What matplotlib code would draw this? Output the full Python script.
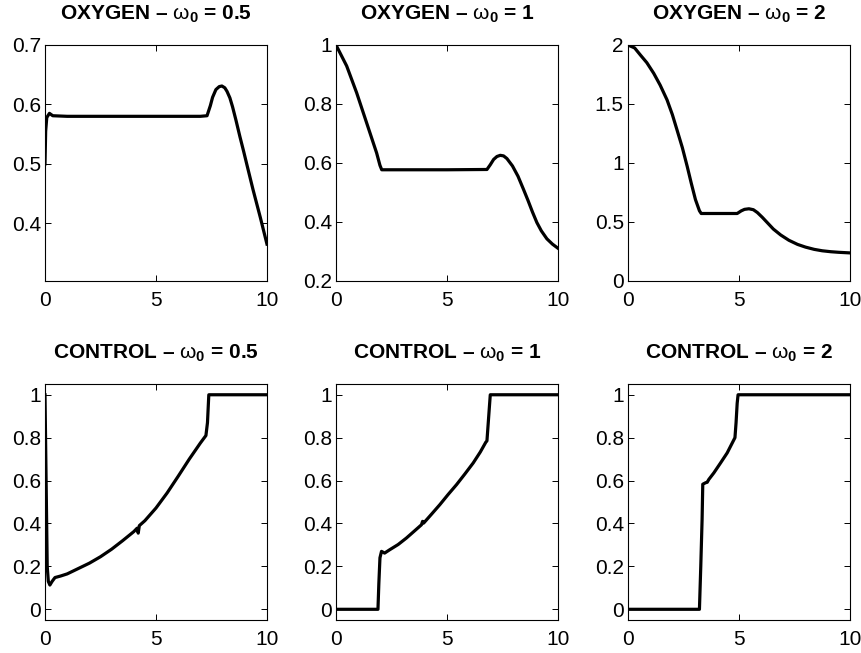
import numpy as np
import matplotlib.pyplot as plt

plt.rcParams['font.family'] = ['Liberation Sans', 'DejaVu Sans']
plt.rcParams['mathtext.fontset'] = 'custom'
plt.rcParams['mathtext.rm'] = 'Liberation Sans'
plt.rcParams['mathtext.bf'] = 'Liberation Sans:bold'

# oxygen, w0 = 0.5
ox1_t = [0, 0.03, 0.08, 0.2, 0.35, 1.0, 3.0, 5.0, 7.0, 7.3, 7.45, 7.55, 7.7, 7.85, 7.97, 8.1,
         8.2, 8.33, 8.45, 8.6, 8.78, 8.95, 9.1, 9.37, 9.7, 10]
ox1_y = [0.5, 0.555, 0.578, 0.585, 0.581, 0.58, 0.58, 0.58, 0.58, 0.581, 0.598, 0.612, 0.625,
         0.63, 0.631, 0.628, 0.622, 0.611, 0.596, 0.574, 0.546, 0.521, 0.498, 0.457, 0.41, 0.365]

# oxygen, w0 = 1
ox2_t = [0, 0.48, 0.93, 1.38, 1.83, 1.98, 2.06, 3.0, 5.0, 6.8, 6.95, 7.1, 7.25, 7.4, 7.55, 7.7,
         7.95, 8.2, 8.45, 8.65, 8.85, 9.05, 9.25, 9.5, 9.75, 10]
ox2_y = [1.0, 0.929, 0.838, 0.736, 0.634, 0.592, 0.577, 0.577, 0.577, 0.578, 0.594, 0.612,
         0.622, 0.626, 0.624, 0.615, 0.59, 0.555, 0.51, 0.473, 0.434, 0.398, 0.37, 0.343,
         0.325, 0.311]

# oxygen, w0 = 2
ox3_t = [0, 0.3, 0.56, 0.85, 1.16, 1.45, 1.76, 2.0, 2.21, 2.45, 2.67, 2.85, 3.04, 3.22, 3.3, 4.0,
         4.92, 5.1, 5.25, 5.45, 5.65, 5.83, 6.05, 6.28, 6.55, 6.88, 7.25, 7.64, 8.0, 8.39, 8.75,
         9.14, 9.5, 10]
ox3_y = [2.0, 1.975, 1.915, 1.85, 1.76, 1.66, 1.535, 1.41, 1.28, 1.13, 0.97, 0.83, 0.69, 0.595,
         0.572, 0.572, 0.572, 0.594, 0.607, 0.612, 0.604, 0.58, 0.54, 0.494, 0.44, 0.39, 0.345,
         0.31, 0.287, 0.268, 0.256, 0.248, 0.243, 0.238]

# control, w0 = 0.5
ct1_t = [0, 0.05, 0.1, 0.15, 0.22, 0.32, 0.45, 0.7, 1.0, 1.5, 2.0, 2.5, 3.0, 3.5, 4.0, 4.15,
         4.2, 4.25, 4.5, 5.0, 5.5, 6.0, 6.5, 7.0, 7.25, 7.32, 7.38, 10]
ct1_y = [1.0, 0.6, 0.2, 0.13, 0.113, 0.13, 0.148, 0.155, 0.165, 0.19, 0.215, 0.245, 0.28,
         0.32, 0.362, 0.378, 0.355, 0.39, 0.413, 0.472, 0.542, 0.62, 0.7, 0.775, 0.81, 0.87,
         1.0, 1.0]

# control, w0 = 1
ct2_t = [0, 1.89, 1.93, 1.98, 2.05, 2.19, 2.41, 2.8, 3.17, 3.5, 3.85, 3.9, 3.95, 4.3, 4.68,
         5.05, 5.43, 5.8, 6.18, 6.5, 6.75, 6.8, 6.95, 10]
ct2_y = [0, 0, 0.12, 0.24, 0.27, 0.262, 0.277, 0.302, 0.332, 0.362, 0.394, 0.41, 0.402, 0.443,
         0.488, 0.535, 0.581, 0.63, 0.682, 0.733, 0.779, 0.785, 1.0, 1.0]

# control, w0 = 2
ct3_t = [0, 3.22, 3.28, 3.34, 3.37, 3.5, 3.57, 3.64, 3.87, 4.17, 4.47, 4.82, 4.87, 4.92, 4.96, 10]
ct3_y = [0, 0, 0.2, 0.42, 0.583, 0.59, 0.592, 0.605, 0.636, 0.682, 0.729, 0.8, 0.87, 0.96, 1.0, 1.0]

series = [(ox1_t, ox1_y), (ox2_t, ox2_y), (ox3_t, ox3_y),
          (ct1_t, ct1_y), (ct2_t, ct2_y), (ct3_t, ct3_y)]
names = ['OXYGEN', 'OXYGEN', 'OXYGEN', 'CONTROL', 'CONTROL', 'CONTROL']
w0 = ['0.5', '1', '2', '0.5', '1', '2']
ylims = [(0.303, 0.7), (0.2, 1.0), (0, 2), (-0.05, 1.05), (-0.05, 1.05), (-0.05, 1.05)]
yticks = [[0.4, 0.5, 0.6, 0.7], [0.2, 0.4, 0.6, 0.8, 1], [0, 0.5, 1, 1.5, 2],
          [0, 0.2, 0.4, 0.6, 0.8, 1], [0, 0.2, 0.4, 0.6, 0.8, 1], [0, 0.2, 0.4, 0.6, 0.8, 1]]
yticklabels = [['0.4', '0.5', '0.6', '0.7'], ['0.2', '0.4', '0.6', '0.8', '1'],
               ['0', '0.5', '1', '1.5', '2'], ['0', '0.2', '0.4', '0.6', '0.8', '1'],
               ['0', '0.2', '0.4', '0.6', '0.8', '1'], ['0', '0.2', '0.4', '0.6', '0.8', '1']]

fig = plt.figure(figsize=(8.62, 6.53), dpi=100)
lefts = [0.0522, 0.3898, 0.7285]
bottoms = [0.5697, 0.0505]

for k in range(6):
    ax = fig.add_axes([lefts[k % 3], bottoms[k // 3], 0.2575, 0.3614])
    t, y = series[k]
    ax.plot(t, y, color='black', lw=2.3, solid_joinstyle='round')
    ax.set_xlim(0, 10)
    ax.set_ylim(*ylims[k])
    ax.set_xticks([0, 5, 10])
    ax.set_xticklabels(['0', '5', '10'])
    ax.set_yticks(yticks[k])
    ax.set_yticklabels(yticklabels[k])
    ax.tick_params(direction='in', top=True, right=True, length=4, width=0.7, labelsize=15)
    ax.tick_params(axis='x', pad=7)
    ax.tick_params(axis='y', pad=3)
    for s in ax.spines.values():
        s.set_linewidth(0.8)
    title = names[k] + ' \u2013 $\\mathrm{\u03c9}_\\mathbf{0}$ = ' + w0[k]
    ax.set_title(title, fontsize=15, fontweight='bold', pad=18.5)

fig.savefig('out.png', dpi=100)
